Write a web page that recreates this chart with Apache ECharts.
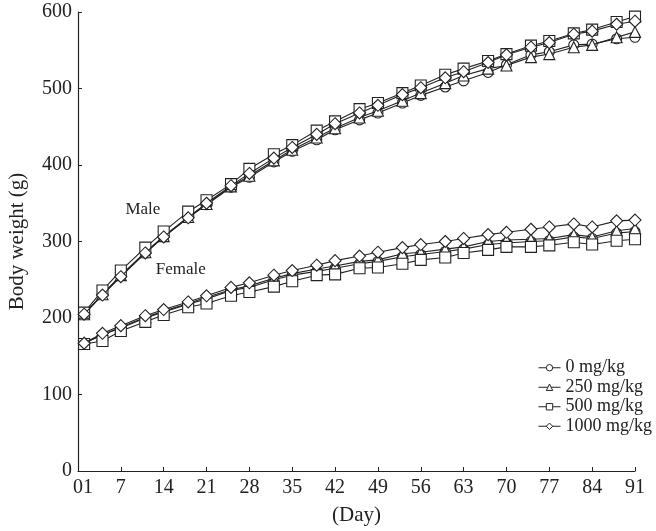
<!DOCTYPE html>
<html>
<head>
<meta charset="utf-8">
<script src="https://cdn.jsdelivr.net/npm/echarts@6/dist/echarts.min.js"></script>
<style>html,body{margin:0;padding:0;background:#fff;}#c{width:656px;height:531px;}</style>
</head>
<body>
<div id="c"></div>
<script>
var days = [1,4,7,11,14,18,21,25,28,32,35,39,42,46,49,53,56,60,63,67,70,74,77,81,84,88,91];
var doseNames = ['0 mg/kg','250 mg/kg','500 mg/kg','1000 mg/kg'];
var symbols = ['circle','triangle','rect','diamond'];
var xTicks = [0,7,14,21,28,35,42,49,56,63,70,77,84,91];

var male0    = [205,231,255,285,306,331,348,371,384,404,418,433,446,459,468,481,491,502,510,521,531,544,548,557,558,565,567];
var male250  = [205,231,256,286,307,332,349,372,386,406,420,436,448,462,471,484,494,507,517,526,530,541,545,554,557,567,574];
var male500  = [207,236,262,292,313,339,354,375,395,414,426,445,457,473,481,494,504,518,526,536,545,556,562,572,577,587,594];
var male1000 = [205,230,254,285,306,331,350,373,389,409,423,440,454,468,478,492,501,514,522,534,544,554,560,571,575,584,588];

var female0    = [167,178,187,200,208,218,225,236,240,250,256,261,265,271,274,280,283,287,290,296,298,300,301,306,304,311,313];
var female250  = [167,178,188,201,209,219,227,237,242,252,258,264,268,274,276,284,286,290,293,300,302,303,304,309,306,314,317];
var female500  = [166,170,183,195,204,214,219,229,234,241,248,256,257,265,266,271,276,279,285,289,293,293,295,299,296,301,303];
var female1000 = [167,180,190,203,211,221,229,240,246,256,262,269,275,281,286,292,296,300,304,309,312,316,319,323,319,327,328];

var maleSeries = [male0, male250, male500, male1000];
var femaleSeries = [female0, female250, female500, female1000];
var groupLabels = [{name:'Male', coord:[10.6, 342]}, {name:'Female', coord:[16.8, 263]}];

var FONT = "'Liberation Serif','Times New Roman',serif";
var INK = '#222';
var symSizes = [10, 11, 11, 12];

function pairs(vals){ return days.map(function(d,i){ return [d, vals[i]]; }); }
function mk(name, vals, k){
  return {
    name: name, type: 'line', data: pairs(vals),
    symbol: symbols[k], symbolSize: symSizes[k], showAllSymbol: true,
    lineStyle: {color: INK, width: 1.1},
    itemStyle: {color: '#fff', borderColor: INK, borderWidth: 1.1},
    emphasis: {disabled: true}, animation: false, z: 2 + k
  };
}
var series = [];
for (var k = 0; k < 4; k++) {
  series.push(mk(doseNames[k], maleSeries[k], k));
  series.push(mk(doseNames[k], femaleSeries[k], k));
}
series.push({
  name: 'labels', type: 'line', data: [], silent: true, animation: false,
  markPoint: {
    symbol: 'circle', symbolSize: 0, animation: false,
    label: {show: true, position: 'inside', formatter: '{b}', color: INK, fontFamily: FONT, fontSize: 17},
    data: groupLabels.map(function(g){ return {name: g.name, coord: g.coord}; })
  }
});

var chart = echarts.init(document.getElementById('c'), null, {renderer: 'canvas'});
chart.setOption({
  backgroundColor: '#fff',
  animation: false,
  grid: {left: 78, right: 21, top: 12, bottom: 60, containLabel: false, outerBoundsMode: 'none'},
  legend: {
    data: doseNames, orient: 'vertical', left: 533, top: 353,
    itemWidth: 22, itemHeight: 8, itemGap: 0,
    itemStyle: {color: '#fff', borderColor: INK, borderWidth: 1},
    lineStyle: {color: INK, width: 1},
    textStyle: {fontFamily: FONT, fontSize: 18, color: INK, lineHeight: 19.5},
    selectedMode: false
  },
  xAxis: {
    type: 'value', min: 0, max: 91, interval: 7,
    name: '(Day)', nameLocation: 'middle', nameGap: 34,
    nameTextStyle: {fontFamily: FONT, fontSize: 21, color: INK},
    axisLine: {show: true, lineStyle: {color: INK, width: 1.2}},
    axisTick: {show: true, inside: true, length: 4, lineStyle: {color: INK}},
    splitLine: {show: false},
    axisLabel: {
      fontFamily: FONT, fontSize: 20, color: INK, margin: 7,
      showMinLabel: true, showMaxLabel: true,
      formatter: function(v){ return v === 0 ? '{a|01}' : String(v); },
      rich: {a: {fontFamily: FONT, fontSize: 20, color: INK, padding: [0,0,0,10]}}
    }
  },
  yAxis: {
    type: 'value', min: 0, max: 600, interval: 100,
    name: 'Body weight (g)', nameLocation: 'middle', nameGap: 50,
    nameTextStyle: {fontFamily: FONT, fontSize: 21, color: INK},
    axisLine: {show: true, lineStyle: {color: INK, width: 1.2}},
    axisTick: {show: true, inside: true, length: 4, lineStyle: {color: INK}},
    splitLine: {show: false},
    axisLabel: {fontFamily: FONT, fontSize: 20, color: INK, margin: 6}
  },
  series: series
});
</script>
</body>
</html>
